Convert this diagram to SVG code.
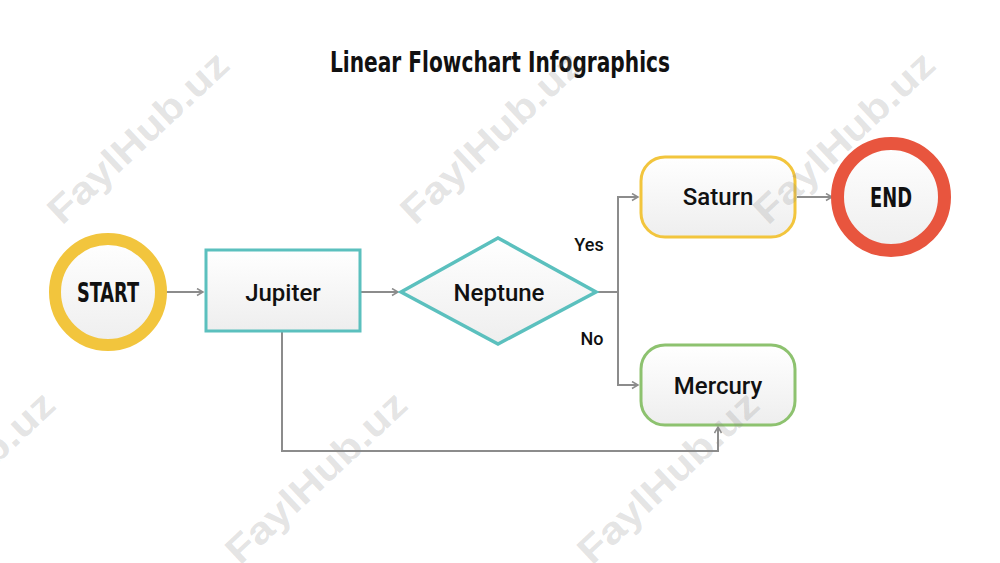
<svg xmlns="http://www.w3.org/2000/svg" width="1000" height="563" viewBox="0 0 1000 563">
<style>
.lbl{font-family:Roboto,"Liberation Sans",sans-serif;font-weight:500;font-size:24px;fill:#111;text-anchor:middle}
.small{font-family:Roboto,"Liberation Sans",sans-serif;font-weight:500;font-size:18px;fill:#111;text-anchor:middle}
.cond{font-family:"Liberation Sans Narrow","DejaVu Sans Condensed","DejaVu Sans",sans-serif;font-stretch:condensed;font-weight:bold;fill:#111;text-anchor:middle}
.wm{font-family:"Liberation Sans",Arial,sans-serif;font-weight:bold;font-size:38px;fill:#8a8a8a;fill-opacity:0.24}
.conn{fill:none;stroke:#8c8c8c;stroke-width:2}
</style>
<defs>
<linearGradient id="g" x1="0" y1="0" x2="0" y2="1">
<stop offset="0" stop-color="#ffffff"/>
<stop offset="1" stop-color="#eeeeee"/>
</linearGradient>
<marker id="arr" markerWidth="10" markerHeight="10" refX="7" refY="4" orient="auto" markerUnits="userSpaceOnUse">
<path d="M1,0.5 L7,4 L1,7.5" fill="none" stroke="#8c8c8c" stroke-width="1.5"/>
</marker>
</defs>
<rect width="1000" height="563" fill="#ffffff"/>
<text class="cond" x="500" y="72" font-size="29" textLength="340" lengthAdjust="spacingAndGlyphs">Linear Flowchart Infographics</text>
<g id="connectors">
<path class="conn" d="M165,292 H203" marker-end="url(#arr)"/>
<path class="conn" d="M361,292 H398" marker-end="url(#arr)"/>
<path class="conn" d="M597,292 H618"/>
<path class="conn" d="M618,292 V197 H638" marker-end="url(#arr)"/>
<path class="conn" d="M618,292 V385 H638" marker-end="url(#arr)"/>
<path class="conn" d="M797,197 H832" marker-end="url(#arr)"/>
<path class="conn" d="M282,332 V451 H718 V427" marker-end="url(#arr)"/>
<text class="small" x="589" y="251">Yes</text>
<text class="small" x="592" y="345">No</text>
</g>
<g id="start">
<circle cx="108" cy="292" r="53" fill="url(#g)" stroke="#F2C53D" stroke-width="12"/>
<text class="cond" x="108" y="302" font-size="26" textLength="62" lengthAdjust="spacingAndGlyphs">START</text>
</g>
<g id="jupiter">
<rect x="206" y="250" width="154" height="81" fill="url(#g)" stroke="#5BC0BE" stroke-width="3"/>
<text class="lbl" x="283" y="301">Jupiter</text>
</g>
<g id="neptune">
<polygon points="401,292 498,238 596,292 498,344" fill="url(#g)" stroke="#5BC0BE" stroke-width="3.5" stroke-linejoin="miter"/>
<text class="lbl" x="499" y="301">Neptune</text>
</g>
<g id="saturn">
<rect x="641" y="157" width="154" height="80" rx="24" fill="url(#g)" stroke="#F2C53D" stroke-width="3"/>
<text class="lbl" x="718" y="205">Saturn</text>
</g>
<g id="mercury">
<rect x="641" y="345" width="154" height="80" rx="24" fill="url(#g)" stroke="#8DC26F" stroke-width="3"/>
<text class="lbl" x="718" y="394">Mercury</text>
</g>
<g id="end">
<circle cx="891" cy="197" r="53.5" fill="url(#g)" stroke="#E8553E" stroke-width="13"/>
<text class="cond" x="891" y="207" font-size="26" textLength="42" lengthAdjust="spacingAndGlyphs">END</text>
</g>
<g id="watermarks">
<text class="wm" transform="translate(62,226) rotate(-43)" textLength="232" lengthAdjust="spacingAndGlyphs">FaylHub.uz</text>
<text class="wm" transform="translate(415,226) rotate(-43)" textLength="232" lengthAdjust="spacingAndGlyphs">FaylHub.uz</text>
<text class="wm" transform="translate(768,226) rotate(-43)" textLength="232" lengthAdjust="spacingAndGlyphs">FaylHub.uz</text>
<text class="wm" transform="translate(-112,566) rotate(-43)" textLength="232" lengthAdjust="spacingAndGlyphs">FaylHub.uz</text>
<text class="wm" transform="translate(240,566) rotate(-43)" textLength="232" lengthAdjust="spacingAndGlyphs">FaylHub.uz</text>
<text class="wm" transform="translate(592,566) rotate(-43)" textLength="232" lengthAdjust="spacingAndGlyphs">FaylHub.uz</text>
</g>
</svg>
